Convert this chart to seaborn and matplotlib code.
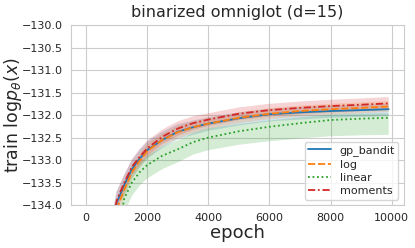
import numpy as np
import pandas as pd
import seaborn as sns
import matplotlib
matplotlib.use("Agg")
import matplotlib.pyplot as plt

# values
epochs = [0, 500, 900, 1000, 1250, 1500, 1750, 2000, 2500, 3000, 3500, 4000, 5000, 6000, 7000, 8000, 9000, 9900]

gp_bandit = [-160, -142, -134.35, -133.95, -133.55, -133.2, -132.97, -132.78, -132.55, -132.37, -132.27, -132.19, -132.07, -131.98, -131.94, -131.91, -131.89, -131.87]
log = [-162, -143, -134.6, -134.1, -133.65, -133.27, -133.02, -132.8, -132.55, -132.38, -132.27, -132.19, -132.06, -131.97, -131.91, -131.87, -131.84, -131.81]
linear = [-165, -146, -135.5, -134.8, -133.85, -133.5, -133.27, -133.11, -132.9, -132.76, -132.6, -132.5, -132.36, -132.26, -132.18, -132.11, -132.08, -132.06]
moments = [-160, -142, -134.3, -133.9, -133.5, -133.15, -132.93, -132.74, -132.48, -132.3, -132.18, -132.1, -131.97, -131.89, -131.84, -131.8, -131.77, -131.74]

# band extents below / above each mean
gp_lo = [1.0, 0.8, 0.3, 0.25, 0.22, 0.2, 0.2, 0.19, 0.18, 0.17, 0.17, 0.16, 0.16, 0.16, 0.16, 0.15, 0.15, 0.15]
gp_hi = [1.0, 0.8, 0.3, 0.25, 0.22, 0.2, 0.2, 0.19, 0.18, 0.17, 0.15, 0.14, 0.13, 0.12, 0.12, 0.12, 0.12, 0.12]
log_lo = [0.8, 0.6, 0.25, 0.2, 0.18, 0.16, 0.15, 0.15, 0.14, 0.14, 0.13, 0.12, 0.12, 0.12, 0.12, 0.12, 0.12, 0.12]
log_hi = [0.8, 0.6, 0.25, 0.2, 0.18, 0.16, 0.15, 0.15, 0.14, 0.14, 0.13, 0.12, 0.12, 0.12, 0.12, 0.12, 0.12, 0.12]
linear_lo = [1.0, 0.8, 0.4, 0.35, 0.32, 0.3, 0.3, 0.3, 0.3, 0.29, 0.28, 0.28, 0.3, 0.32, 0.34, 0.36, 0.37, 0.38]
linear_hi = [0.8, 0.6, 0.3, 0.25, 0.22, 0.2, 0.2, 0.2, 0.2, 0.2, 0.2, 0.2, 0.16, 0.14, 0.13, 0.12, 0.11, 0.1]
moments_lo = [0.8, 0.6, 0.25, 0.2, 0.18, 0.17, 0.17, 0.17, 0.16, 0.16, 0.15, 0.14, 0.14, 0.14, 0.14, 0.14, 0.14, 0.14]
moments_hi = [0.8, 0.6, 0.25, 0.2, 0.18, 0.17, 0.17, 0.17, 0.16, 0.16, 0.15, 0.14, 0.14, 0.14, 0.14, 0.14, 0.14, 0.14]

methods = ["gp_bandit", "log", "linear", "moments"]
means = [gp_bandit, log, linear, moments]
lows = [gp_lo, log_lo, linear_lo, moments_lo]
highs = [gp_hi, log_hi, linear_hi, moments_hi]
colors = sns.color_palette("tab10", 4)

sns.set_style("whitegrid")
plt.rcParams["font.family"] = ["DejaVu Sans"]

fig, ax = plt.subplots(figsize=(4.15, 2.48), dpi=100)
fig.subplots_adjust(left=0.171, right=0.973, top=0.899, bottom=0.173)

rows = []
for m, vals in zip(methods, means):
    for e, v in zip(epochs, vals):
        rows.append({"epoch": e, "value": v, "method": m})
df = pd.DataFrame(rows)

for m, lo, hi, c in zip(methods, lows, highs, colors):
    mean = np.array(df[df.method == m]["value"])
    ax.fill_between(epochs, mean - np.array(lo), mean + np.array(hi), color=c, alpha=0.2, lw=0)

sns.lineplot(data=df, x="epoch", y="value", hue="method", style="method",
             palette=dict(zip(methods, colors)),
             dashes={"gp_bandit": "", "log": (4, 1.5), "linear": (1, 1.5), "moments": (4, 1.5, 1, 1.5)},
             lw=1.3, ax=ax)

ax.set_ylim(-134, -130)
ax.set_title("binarized omniglot (d=15)", fontsize=11.5)
ax.set_xlabel("epoch", fontsize=13, labelpad=1)
ax.set_ylabel(r"train $\mathrm{log}p_\theta(x)$", fontsize=12.5, labelpad=-1.5)
ax.tick_params(labelsize=8, pad=2)
yt = np.arange(-134, -129.9, 0.5)
ax.set_yticks(yt)
ax.set_yticklabels([f"\u2212{abs(v):.1f}" for v in yt])
ax.legend(loc="lower right", fontsize=8, title=None, borderpad=0.3, labelspacing=0.3)

plt.savefig("out.png", dpi=100)
